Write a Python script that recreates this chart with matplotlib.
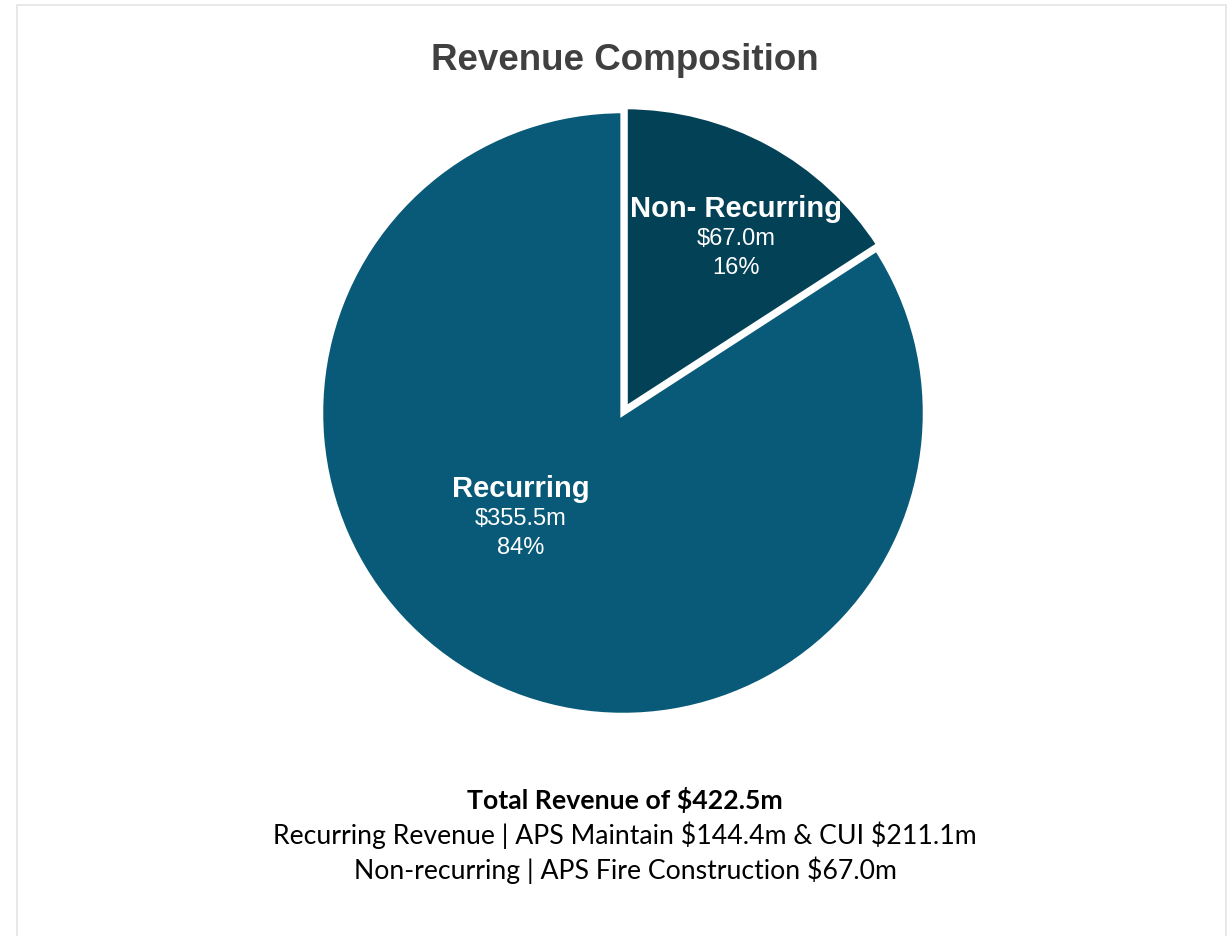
import matplotlib
matplotlib.use("Agg")
import matplotlib.pyplot as plt
import matplotlib.patches as mpatches
import numpy as np

# Data
categories = ["Non- Recurring", "Recurring"]
values = [67.0, 355.5]
colors = ["#034156", "#085A78"]
title = "Revenue Composition"
footer_title = r"Total Revenue of \$422.5m"
footer_lines = [r"Recurring Revenue | APS Maintain \$144.4m & CUI \$211.1m",
                r"Non-recurring | APS Fire Construction \$67.0m"]

W, H = 1227, 936
fig = plt.figure(figsize=(W / 100, H / 100), dpi=100)
fig.patch.set_facecolor("white")

# light frame
fig.add_artist(mpatches.Rectangle((17 / W, -0.01), (1226 - 17) / W, 1.01 - 5 / H,
                                  transform=fig.transFigure, fill=False,
                                  edgecolor="#E4E4E4", linewidth=1.2))

cx, cy, r = 623, 413, 300
ax = fig.add_axes([(cx - r) / W, (H - cy - r) / H, 2 * r / W, 2 * r / H])

wedges, _ = ax.pie(values, colors=colors, startangle=90, counterclock=False,
                   explode=[0.015, 0], radius=1.008,
                   wedgeprops=dict(edgecolor="white", linewidth=3.8))
ax.set_xlim(-1, 1)
ax.set_ylim(-1, 1)
ax.set_aspect("equal")
ax.axis("off")
for w in wedges:
    w.set_clip_on(False)

total = sum(values)
# label positions (radius fraction, angle in degrees)
label_pos = [(0.69, 57.0), (0.49, 226.0)]
for cat, v, (rr, ang) in zip(categories, values, label_pos):
    x = rr * np.cos(np.radians(ang))
    y = rr * np.sin(np.radians(ang))
    ax.text(x, y + 0.10, cat, ha="center", va="center", color="white",
            fontsize=21, fontweight="bold", family="Liberation Sans")
    ax.text(x, y, f"\\${v:.1f}m", ha="center", va="center", color="white",
            fontsize=17, family="Liberation Sans")
    ax.text(x, y - 0.097, f"{v / total * 100:.0f}%", ha="center", va="center",
            color="white", fontsize=17, family="Liberation Sans")

fig.text(625 / W, 1 - 60 / H, title, ha="center", va="center", color="#404040",
         fontsize=26.5, fontweight="bold", family="Liberation Sans")

fig.text(625 / W, 1 - 800 / H, footer_title, ha="center", va="center", color="black",
         fontsize=19.2, fontweight="bold", family="Lato")
for i, line in enumerate(footer_lines):
    fig.text(625 / W, 1 - (835 + 35 * i) / H, line, ha="center", va="center",
             color="black", fontsize=19.2, family="Lato")

fig.savefig("out.png", dpi=100, facecolor="white")
